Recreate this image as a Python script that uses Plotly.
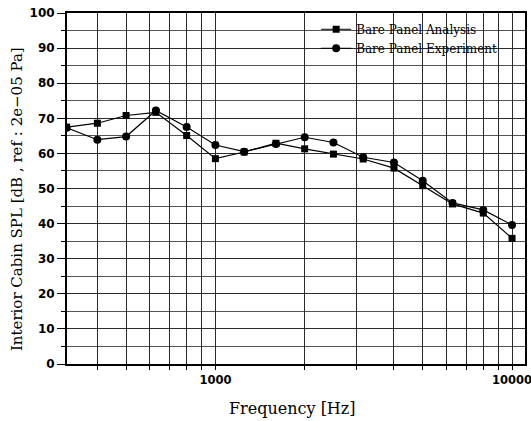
import plotly.graph_objects as go
import math

freq = [315, 400, 500, 630, 800, 1000, 1250, 1600, 2000, 2500, 3150, 4000, 5000, 6300, 8000, 10000]
analysis = [67.5, 68.6, 70.8, 71.7, 65.1, 58.5, 60.4, 62.9, 61.3, 59.8, 58.4, 55.8, 50.8, 45.6, 43.0, 35.8]
experiment = [67.3, 63.9, 64.8, 72.2, 67.5, 62.4, 60.5, 62.7, 64.6, 63.1, 58.9, 57.4, 52.2, 45.9, 43.9, 39.6]

x_grid = [400, 500, 600, 700, 800, 900, 1000, 2000, 3000, 4000, 5000, 6000, 7000, 8000, 9000, 10000]
x_labels = ["", "", "", "", "", "", "1000", "", "", "", "", "", "", "", "", "10000"]
y_ticks = [0, 10, 20, 30, 40, 50, 60, 70, 80, 90, 100]

x_title = "Frequency [Hz]"
y_title = "Interior Cabin SPL [dB , ref : 2e\u221205 Pa]"

serif = "DejaVu Serif"
ytickfont = dict(family="DejaVu Sans", size=12, color="black", weight="bold")
xtickfont = dict(family="DejaVu Sans", size=11.5, color="black", weight="bold")

fig = go.Figure()
fig.add_trace(go.Scatter(
    x=freq, y=analysis, mode="lines+markers", name="Bare Panel Analysis",
    line=dict(color="black", width=1.2),
    marker=dict(symbol="square", size=7, color="black"),
))
fig.add_trace(go.Scatter(
    x=freq, y=experiment, mode="lines+markers", name="Bare Panel Experiment",
    line=dict(color="black", width=1.2),
    marker=dict(symbol="circle", size=8, color="black"),
))

fig.update_layout(
    width=531, height=421,
    margin=dict(l=67, r=6, t=13, b=57),
    paper_bgcolor="white", plot_bgcolor="white",
    showlegend=True,
    legend=dict(
        x=0.544, y=0.995, xanchor="left", yanchor="top",
        bgcolor="rgba(0,0,0,0)", borderwidth=0,
        font=dict(family=serif, size=12, color="black"),
        tracegroupgap=0, itemwidth=30,
    ),
    xaxis=dict(
        type="log",
        range=[math.log10(316), math.log10(11060)],
        tickvals=x_grid, ticktext=x_labels,
        tickangle=0, automargin=False, ticklabeloverflow="allow",
        showgrid=True, gridcolor="#2a2a2a", gridwidth=1,
        ticks="outside", ticklen=4, tickcolor="black",
        showline=True, linecolor="black", linewidth=2, mirror=True,
        tickfont=xtickfont,
        zeroline=False,
    ),
    yaxis=dict(
        range=[0, 100],
        tickvals=y_ticks, automargin=False, ticklabeloverflow="allow",
        showgrid=True, gridcolor="#2a2a2a", gridwidth=1,
        ticks="outside", ticklen=8, tickcolor="black",
        minor=dict(dtick=5, showgrid=True, gridcolor="#555555", gridwidth=1,
                   ticks="outside", ticklen=4, tickcolor="black"),
        showline=True, linecolor="black", linewidth=2, mirror=True,
        tickfont=ytickfont,
        zeroline=False,
    ),
    annotations=[
        dict(text=x_title, xref="paper", yref="paper", x=0.493, y=-0.128,
             xanchor="center", yanchor="middle", showarrow=False,
             font=dict(family=serif, size=16, color="black")),
        dict(text=y_title, xref="paper", yref="paper", x=-0.109, y=0.47,
             xanchor="center", yanchor="middle", showarrow=False, textangle=-90,
             font=dict(family=serif, size=15, color="black")),
    ],
)

fig.write_html("out.html", config={"displayModeBar": False},
               post_script="document.body.style.margin='0';")
